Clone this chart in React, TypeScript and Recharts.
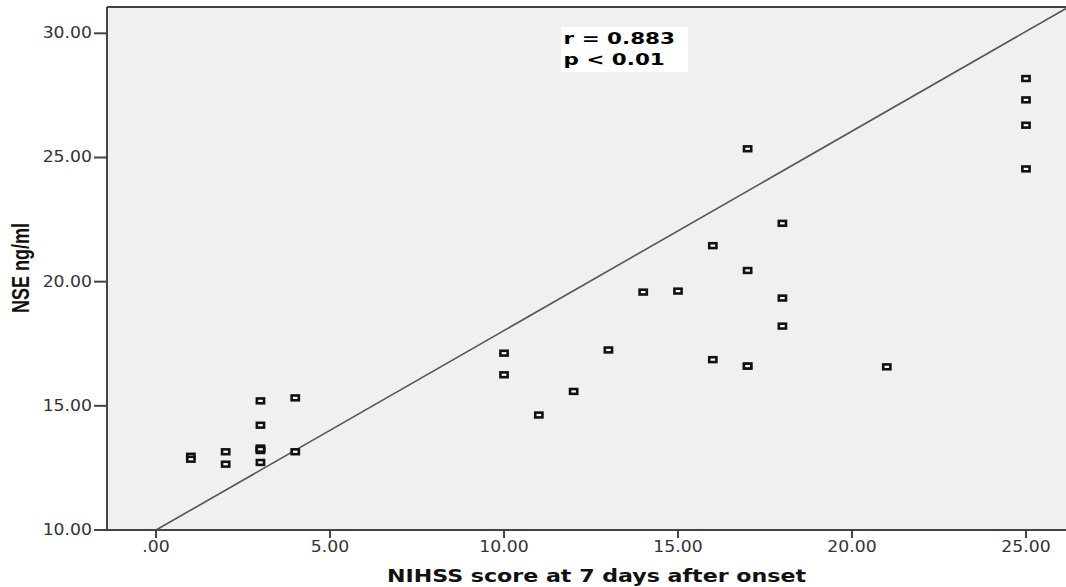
import { ScatterChart, Scatter, XAxis, YAxis, CartesianGrid, ReferenceLine, Label } from "recharts";

// NIHSS score (x) vs NSE ng/ml (y)
const NIHSS = [1, 1, 2, 2, 3, 3, 3, 3, 3, 3, 4, 4, 10, 10, 11, 12, 13, 14, 15, 16, 16, 17, 17, 17, 17, 18, 18, 18, 21, 25, 25, 25, 25];
const NSE = [12.97, 12.85, 13.15, 12.65, 15.2, 14.22, 13.3, 13.2, 12.72, 13.25, 15.32, 13.15, 17.12, 16.25, 14.63, 15.58, 17.25, 19.58, 19.62, 21.45, 16.86, 25.35, 20.45, 16.6, 16.6, 22.35, 19.34, 18.21, 16.57, 28.18, 27.32, 26.3, 24.54];

// fit line endpoints
const FIT_X = [0, 26.15];
const FIT_Y = [10, 31.0];

const X_TICKS = [0, 5, 10, 15, 20, 25];
const Y_TICKS = [10, 15, 20, 25, 30];
const X_DOMAIN = [-1.41, 26.15];
const Y_DOMAIN = [10, 31.06];

const points = NIHSS.map((x, i) => ({ x, y: NSE[i] }));
const fitLine = FIT_X.map((x, i) => ({ x, y: FIT_Y[i] }));

const fmt = (v: number) => (v === 0 ? ".00" : v.toFixed(2));

const SquareDot = (props: any) => {
  const { cx, cy } = props;
  if (cx == null || cy == null) return null;
  return <rect x={cx - 3.6} y={cy - 2.4} width={7.2} height={4.8} fill="#fff" stroke="#111" strokeWidth={2.6} />;
};

const NoDot = () => null;

const XTick = (props: any) => {
  const { x, y, payload } = props;
  return (
    <g transform={`translate(${x},${y})`}>
      <text x={0} y={0} dy={12} textAnchor="middle" transform="scale(1.15,1)" fontSize={15} fontFamily="DejaVu Sans" fill="#333">
        {fmt(payload.value)}
      </text>
    </g>
  );
};

const YTick = (props: any) => {
  const { x, y, payload } = props;
  return (
    <g transform={`translate(${x},${y})`}>
      <text x={0} y={0} dy={5} textAnchor="end" transform="scale(1.15,1)" fontSize={15} fontFamily="DejaVu Sans" fill="#333">
        {fmt(payload.value)}
      </text>
    </g>
  );
};

const XTitle = (props: any) => {
  const vb = props.viewBox || {};
  const cx = vb.x + vb.width / 2 + 10;
  return (
    <g transform={`translate(${cx},${vb.y + 52})`}>
      <text x={0} y={0} textAnchor="middle" transform="scale(1.23,1)" fontSize={18} fontWeight="bold" fontFamily="DejaVu Sans" fill="#111">
        NIHSS score at 7 days after onset
      </text>
    </g>
  );
};

const YTitle = () => (
  <g transform="translate(29,268) rotate(-90) scale(1,1.3)">
    <text x={0} y={0} textAnchor="middle" fontSize={18} fontWeight="bold" fontFamily="Liberation Sans" fill="#111">
      NSE ng/ml
    </text>
  </g>
);

export default function App() {
  return (
    <div style={{ position: "relative", width: 1066, height: 587, background: "#fff" }}>
      <style>{`body{margin:0}`}</style>
      <ScatterChart width={1066} height={587} margin={{ top: 7, right: 0, bottom: 0, left: 0 }}>
        <CartesianGrid fill="#f0f0f0" horizontal={false} vertical={false} />
        <XAxis
          type="number"
          dataKey="x"
          domain={X_DOMAIN}
          ticks={X_TICKS}
          allowDataOverflow
          height={57}
          tick={<XTick />}
          tickSize={8}
          tickLine={{ stroke: "#444", strokeWidth: 2 }}
          axisLine={{ stroke: "#444", strokeWidth: 2 }}
        >
          <Label content={<XTitle />} />
        </XAxis>
        <YAxis
          type="number"
          dataKey="y"
          domain={Y_DOMAIN}
          ticks={Y_TICKS}
          allowDataOverflow
          width={107}
          tick={<YTick />}
          tickSize={13}
          tickMargin={2}
          tickLine={{ stroke: "#444", strokeWidth: 2 }}
          axisLine={{ stroke: "#444", strokeWidth: 2 }}
        >
          <Label content={<YTitle />} />
        </YAxis>
        <ReferenceLine y={Y_DOMAIN[1]} stroke="#444" strokeWidth={2} />
        <Scatter data={fitLine} line={{ stroke: "#555", strokeWidth: 1.6 }} shape={<NoDot />} isAnimationActive={false} />
        <Scatter data={points} shape={<SquareDot />} isAnimationActive={false} />
      </ScatterChart>
      <div
        style={{
          position: "absolute",
          left: 561,
          top: 27,
          width: 127,
          height: 45,
          background: "#fff",
          fontFamily: "DejaVu Sans",
          fontWeight: "bold",
          fontSize: 16.5,
          color: "#000",
          lineHeight: "21px",
        }}
      >
        <div style={{ transform: "scale(1.3,1)", transformOrigin: "left top", paddingLeft: 2, paddingTop: 1, whiteSpace: "nowrap" }}>
          r = 0.883
          <br />
          p &lt; 0.01
        </div>
      </div>
    </div>
  );
}
